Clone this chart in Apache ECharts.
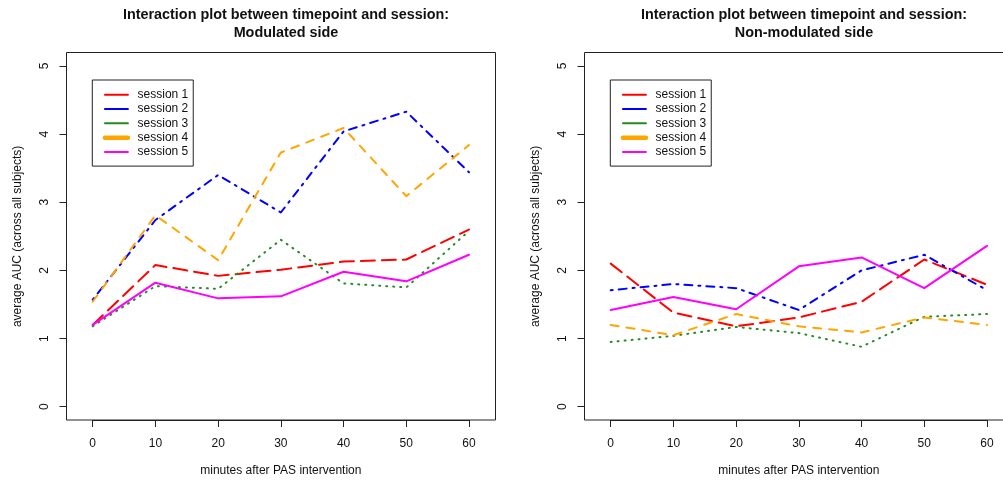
<!DOCTYPE html>
<html>
<head>
<meta charset="utf-8">
<script src="https://cdn.jsdelivr.net/npm/echarts@6/dist/echarts.min.js"></script>
<style>
  html, body { margin: 0; padding: 0; background: #fff; }
  #chart { width: 1003px; height: 483px; }
</style>
</head>
<body>
<div id="chart"></div>
<script>
// minutes after PAS intervention
const times = [0, 10, 20, 30, 40, 50, 60];
const sessions = ['session 1', 'session 2', 'session 3', 'session 4', 'session 5'];
const yTicks = [0, 1, 2, 3, 4, 5];

// modulated side, average AUC per session
const modS1 = [1.20, 2.08, 1.92, 2.01, 2.13, 2.16, 2.60];
const modS2 = [1.57, 2.74, 3.40, 2.85, 4.04, 4.33, 3.44];
const modS3 = [1.18, 1.77, 1.73, 2.45, 1.81, 1.75, 2.58];
const modS4 = [1.54, 2.81, 2.15, 3.73, 4.09, 3.09, 3.84];
const modS5 = [1.20, 1.82, 1.59, 1.62, 1.98, 1.84, 2.23];

// non-modulated side
const nonS1 = [2.10, 1.38, 1.18, 1.31, 1.54, 2.16, 1.79];
const nonS2 = [1.71, 1.80, 1.74, 1.42, 2.00, 2.23, 1.71];
const nonS3 = [0.95, 1.04, 1.17, 1.08, 0.88, 1.32, 1.36];
const nonS4 = [1.20, 1.05, 1.36, 1.18, 1.09, 1.31, 1.20];
const nonS5 = [1.42, 1.61, 1.43, 2.06, 2.19, 1.74, 2.36];

const FONT = '"Liberation Sans", Arial, sans-serif';
const INK = '#111';

// R interaction.plot line types (lwd = 2)
const styles = [
  { color: '#ff0000', type: [14, 7] },
  { color: '#0000ff', type: [2, 6, 8, 6] },
  { color: '#228b22', type: [1, 6] },
  { color: '#ffa500', type: [8, 8] },
  { color: '#ff00ff', type: 'solid' },
];

const panels = [
  { title: 'Interaction plot between timepoint and session:\nModulated side', data: [modS1, modS2, modS3, modS4, modS5], x0: 92.7, box: 66.5 },
  { title: 'Interaction plot between timepoint and session:\nNon-modulated side', data: [nonS1, nonS2, nonS3, nonS4, nonS5], x0: 610.7, box: 584.5 },
];

const plotW = 376.3;   // 0..60
const plotTop = 66;    // y = 5
const plotH = 340.7;   // 5..0
const boxW = 429;
const boxTop = 52.5;
const boxH = 367.5;

const chart = echarts.init(document.getElementById('chart'));

const option = {
  animation: false,
  backgroundColor: '#fff',
  textStyle: { fontFamily: FONT },
  title: panels.map((p) => ({
    text: p.title,
    left: p.box + boxW / 2,
    top: 1,
    textAlign: 'center',
    textStyle: { fontFamily: FONT, fontSize: 14.4, fontWeight: 'bold', color: INK, lineHeight: 18 },
  })),
  grid: panels.map((p) => ({ left: p.x0, top: plotTop, width: plotW, height: plotH })),
  xAxis: panels.map((p, i) => ({
    type: 'value',
    gridIndex: i,
    min: 0,
    max: 60,
    interval: 10,
    offset: 13.3,
    name: 'minutes after PAS intervention',
    nameLocation: 'middle',
    nameGap: 45,
    nameTextStyle: { fontFamily: FONT, fontSize: 12, color: INK },
    axisLine: { show: true, onZero: false, lineStyle: { color: '#222', width: 1 } },
    axisTick: { show: true, length: 7, lineStyle: { color: '#222' } },
    axisLabel: { fontFamily: FONT, fontSize: 12, color: INK, margin: 18 },
    splitLine: { show: false },
  })),
  yAxis: panels.map((p, i) => ({
    type: 'value',
    gridIndex: i,
    min: yTicks[0],
    max: yTicks[yTicks.length - 1],
    interval: 1,
    offset: p.x0 - p.box,
    name: 'average AUC (across all subjects)',
    nameLocation: 'middle',
    nameGap: 43,
    nameTextStyle: { fontFamily: FONT, fontSize: 12, color: INK },
    axisLine: { show: true, onZero: false, lineStyle: { color: '#222', width: 1 } },
    axisTick: { show: true, length: 7, lineStyle: { color: '#222' } },
    axisLabel: { fontFamily: FONT, fontSize: 12, color: INK, rotate: 90, margin: 16 },
    splitLine: { show: false },
  })),
  legend: panels.map((p) => ({
    orient: 'vertical',
    left: p.box + 25.8,
    top: 80,
    padding: [7.6, 5, 7, 10.4],
    itemWidth: 23,
    itemHeight: 14,
    itemGap: 0,
    borderColor: '#222',
    borderWidth: 1,
    borderRadius: 0,
    selectedMode: false,
    textStyle: { fontFamily: FONT, fontSize: 12, color: INK, lineHeight: 14.3, padding: [0, 0, 0, 4.6] },
    data: sessions.map((name, k) => ({
      name: name,
      itemStyle: { opacity: 0 },
      lineStyle: { type: 'solid', width: k === 3 ? 4.5 : 2 },
    })),
  })),
  graphic: panels.map((p) => ({
    type: 'rect',
    shape: { x: p.box, y: boxTop, width: boxW, height: boxH },
    style: { fill: 'none', stroke: '#222', lineWidth: 1 },
    silent: true,
    z: 10,
  })),
  series: [],
};

panels.forEach((p, i) => {
  p.data.forEach((vals, k) => {
    option.series.push({
      name: sessions[k],
      type: 'line',
      xAxisIndex: i,
      yAxisIndex: i,
      symbol: 'none',
      color: styles[k].color,
      lineStyle: { color: styles[k].color, width: 2, type: styles[k].type, cap: 'round', join: 'round' },
      data: times.map((t, j) => [t, vals[j]]),
    });
  });
});

chart.setOption(option);
</script>
</body>
</html>
